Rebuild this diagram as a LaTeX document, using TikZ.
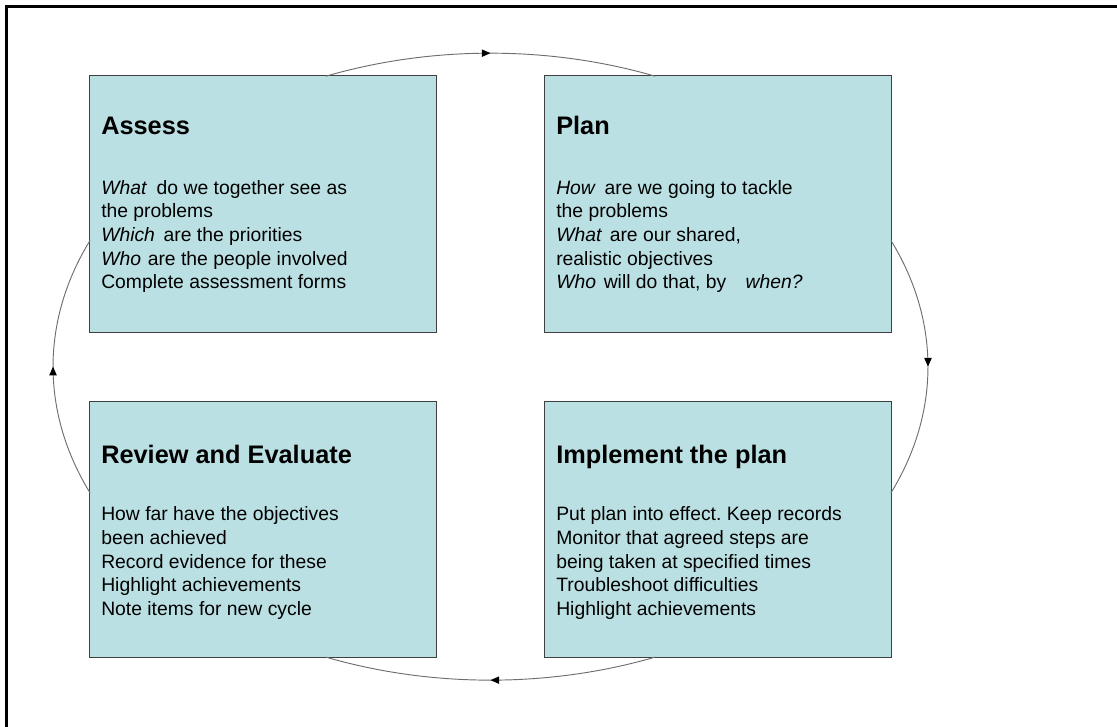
\documentclass[tikz,border=0pt]{standalone}
\usepackage{fontspec}
\setmainfont{Liberation Sans}
\frenchspacing
\usetikzlibrary{positioning, arrows.meta, calc, decorations.markings}
\definecolor{stagefill}{RGB}{187,224,227}
\definecolor{stageline}{RGB}{64,64,64}
\definecolor{cyclecol}{RGB}{110,110,110}
\newcommand{\cycrx}{328.125pt}
\newcommand{\cycry}{235.125pt}

\begin{document}
\begin{tikzpicture}[
		x=0.75pt, y=0.75pt,
		stage/.style={
			draw=stageline,
			fill=stagefill,
			line width=0.75pt,
			rectangle,
			minimum width=260.25pt,
			minimum height=192.5pt,
			inner sep=0pt
		},
		stagetitle/.style={
			anchor=base west,
			inner sep=0pt,
			font=\bfseries\fontsize{19pt}{22pt}\selectfont
		},
		stagetext/.style={
			anchor=north west,
			inner sep=0pt,
			align=left,
			font=\fontsize{14.5pt}{17.7pt}\selectfont
		},
		cyclearc/.style={
			draw=cyclecol,
			line width=0.7pt,
			postaction={decorate},
			decoration={markings,
				mark=at position 0.5 with {\arrow{Triangle[length=6.5pt, width=5.5pt, color=black]}}}
		}
		]
		\useasboundingbox (0,0) rectangle (1117,727);
		% Frame
		\draw[line width=2pt] (6.5,-20) rectangle (1140,720.5);
		
		% Stages
		\node[stage, anchor=north west] (assess) at (89,652) {};
		\node[stage] (plan) [right=80.25pt of assess] {};
		\node[stage] (review) [below=51pt of assess] {};
		\node[stage] (implement) [right=80.25pt of review] {};
		
		% Titles
		\node[stagetitle] (assess-title) at ($(assess.north west)+(12,-60)$) {Assess};
		\node[stagetitle] (plan-title) at ($(plan.north west)+(12,-60)$) {Plan};
		\node[stagetitle] (review-title) at ($(review.north west)+(12,-63)$) {Review and Evaluate};
		\node[stagetitle] (implement-title) at ($(implement.north west)+(12,-63)$) {Implement the plan};
		
		% Texts
		\node[stagetext] (assess-text) at ($(assess.north west)+(12,-105)$) {\textit{What}\hspace{.5em}do we together see as\\the problems\\\textit{Which}\hspace{.45em}are the priorities\\\textit{Who}\hspace{.35em}are the people involved\\Complete assessment forms};
		\node[stagetext] (plan-text) at ($(plan.north west)+(12,-105)$) {\textit{How}\hspace{.45em}are we going to tackle\\the problems\\\textit{What}\hspace{.4em}are our shared,\\realistic objectives\\\textit{Who}\hspace{.4em}will do that, by\quad\textit{when?}};
		\node[stagetext] (review-text) at ($(review.north west)+(12,-106)$) {How far have the objectives\\been achieved\\Record evidence for these\\Highlight achievements\\Note items for new cycle};
		\node[stagetext] (implement-text) at ($(implement.north west)+(12,-106)$) {Put plan into effect. Keep records\\Monitor that agreed steps are\\being taken at specified times\\Troubleshoot difficulties\\Highlight achievements};
		
		% Cycle
		\coordinate (cyc) at ($(assess.south east)!0.5!(implement.north west)$);
		\coordinate (top-start) at ($(cyc)+(112.1:328.125pt and 235.125pt)$);
		\coordinate (right-start) at ($(cyc)+(23.75:328.125pt and 235.125pt)$);
		\coordinate (bottom-start) at ($(cyc)+(-67.9:328.125pt and 235.125pt)$);
		\coordinate (left-start) at ($(cyc)+(203.75:328.125pt and 235.125pt)$);
		\draw[cyclearc] (top-start) arc[start angle=112.1, end angle=67.9, x radius=\cycrx, y radius=\cycry];
		\draw[cyclearc] (right-start) arc[start angle=23.75, end angle=-23.75, x radius=\cycrx, y radius=\cycry];
		\draw[cyclearc] (bottom-start) arc[start angle=-67.9, end angle=-112.1, x radius=\cycrx, y radius=\cycry];
		\draw[cyclearc] (left-start) arc[start angle=203.75, end angle=156.25, x radius=\cycrx, y radius=\cycry];
	\end{tikzpicture}
\end{document}
